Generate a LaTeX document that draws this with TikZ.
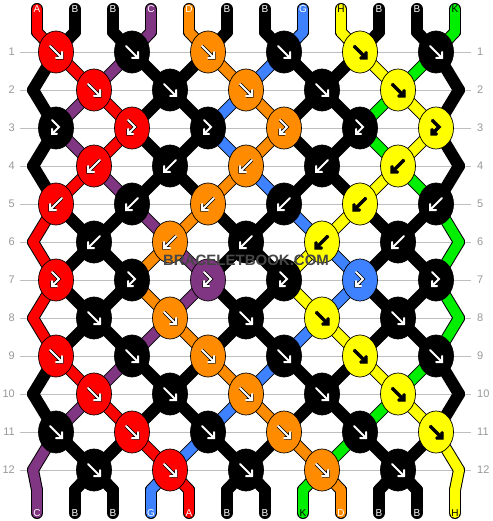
\documentclass[tikz,border=0pt]{standalone}
\usepackage{fontspec}
\setsansfont{Liberation Sans}
\usetikzlibrary{shapes.geometric}

% thread colours
\definecolor{sA}{RGB}{255,0,0}
\definecolor{sB}{RGB}{0,0,0}
\definecolor{sC}{RGB}{128,54,130}
\definecolor{sD}{RGB}{255,140,0}
\definecolor{sG}{RGB}{62,130,255}
\definecolor{sH}{RGB}{255,255,0}
\definecolor{sK}{RGB}{0,238,0}
% arrow and letter colours
\colorlet{aA}{white}\colorlet{aB}{white}\colorlet{aC}{white}\colorlet{aD}{white}
\colorlet{aG}{white}\colorlet{aH}{black}\colorlet{aK}{black}

\tikzset{
  knot/.style={ellipse, draw=black, line width=0.7pt, minimum width=35pt, minimum height=42pt, inner sep=0pt},
  rim/.style={black, line width=12pt, line cap=round},
  thread/.style={line width=10pt, line cap=round},
  glyph/.style={line width=2pt, line cap=round, line join=miter, preaction={draw=black, line width=3.4pt}},
  tiplabel/.style={font=\sffamily\fontsize{10}{10}\selectfont, inner sep=0pt},
  rowlabel/.style={font=\sffamily\fontsize{11}{11}\selectfont, text=black!40, inner sep=0pt},
  guide/.style={black!25, line width=0.8pt},
  stamp/.style={font=\sffamily\bfseries\fontsize{15}{15}\selectfont, text=black!72, inner sep=0pt},
  fwd/.pic={\draw[glyph] (-6,-6) -- (6,6) (0,6) -- (6,6) -- (6,0);},
  bwd/.pic={\draw[glyph] (6,-6) -- (-6,6) (0,6) -- (-6,6) -- (-6,0);},
  fwbw/.pic={\draw[glyph] (-4,-8) -- (3,-1) -- (-4,6) (-4,1) -- (-4,6) -- (1,6);},
}

% thread colours between two rows: from/to/{positions 1..12}
\newcommand\threadrows{
  T/0/{A,B,B,C,D,B,B,G,H,B,B,K},
  0/1/{A,B,B,C,D,B,B,G,H,B,B,K},
  1/2/{B,A,C,B,B,D,G,B,B,H,K,B},
  2/3/{B,C,A,B,B,G,D,B,B,K,H,B},
  3/4/{B,C,A,B,B,G,D,B,B,K,H,B},
  4/5/{B,A,C,B,B,D,G,B,B,H,K,B},
  5/6/{A,B,B,C,D,B,B,G,H,B,B,K},
  6/7/{A,B,B,D,C,B,B,H,G,B,B,K},
  7/8/{A,B,B,D,C,B,B,H,G,B,B,K},
  8/9/{A,B,B,C,D,B,B,G,H,B,B,K},
  9/10/{B,A,C,B,B,D,G,B,B,H,K,B},
  10/11/{B,C,A,B,B,G,D,B,B,K,H,B},
  11/12/{C,B,B,A,G,B,B,D,K,B,B,H},
  12/13/{C,B,B,G,A,B,B,K,D,B,B,H},
  13/U/{C,B,B,G,A,B,B,K,D,B,B,H}}

\begin{document}
\begin{tikzpicture}[x=1pt, y=-1pt]
    \fill[white] (0,0) rectangle (492,521);
    \useasboundingbox (0,0) rectangle (492,521);

    % row numbers and guide lines
    \foreach \r in {1,...,12}{
        \node[rowlabel, anchor=east] (L-\r) at (15,{52+38*(\r-1)}) {\r};
        \node[rowlabel, anchor=west] (R-\r) at (477,{52+38*(\r-1)}) {\r};
        \draw[guide] ([xshift=5pt]L-\r.east) -- ([xshift=-6pt]R-\r.west);
    }

    % strand positions
    \foreach \p in {1,...,12}{
        \coordinate (P-T-\p) at ({37+38*(\p-1)},9);
        \coordinate (P-0-\p) at ({37+38*(\p-1)},32);
        \coordinate (P-13-\p) at ({37+38*(\p-1)},490);
        \coordinate (P-U-\p) at ({37+38*(\p-1)},513);
    }
    \foreach \r in {1,...,12}{
        \foreach \p in {1,...,12}{
            \pgfmathsetmacro\xx{mod(\r,2)==1 ? 56+76*(int((\p+1)/2)-1) : (\p==1 ? 33 : (\p==12 ? 459 : 94+76*(int(\p/2)-1)))}
            \coordinate (P-\r-\p) at (\xx,{52+38*(\r-1)});
        }
    }

    % threads
    \foreach \r/\n/\cols in \threadrows{
        \foreach \c [count=\p] in \cols
            \draw[rim] (P-\r-\p) -- (P-\n-\p);
    }
    \foreach \r/\n/\cols in \threadrows{
        \foreach \c [count=\p] in \cols
            \draw[thread, draw=s\c] (P-\r-\p) -- (P-\n-\p);
    }

    % knots
    \foreach \r/\sym/\cols in {1/fwd/{A,B,D,B,H,B}, 2/fwd/{A,B,D,B,H}, 3/fwbw/{B,A,B,D,B,H},
            4/bwd/{A,B,D,B,H}, 5/bwd/{A,B,D,B,H,B}, 6/bwd/{B,D,B,H,B}, 7/fwbw/{A,B,C,B,G,B},
            8/fwd/{B,D,B,H,B}, 9/fwd/{A,B,D,B,H,B}, 10/fwd/{A,B,D,B,H}, 11/fwd/{B,A,B,D,B,H},
            12/fwd/{B,A,B,D,B}}{
        \foreach \c [count=\k] in \cols {
            \pgfmathtruncatemacro\p{2*\k-mod(\r,2)}
            \node[knot, fill=s\c] (K-\r-\k) at (P-\r-\p) {};
            \pic[color=a\c] at (K-\r-\k) {\sym};
        }
    }

    % thread letters
    \foreach \c [count=\p] in {A,B,B,C,D,B,B,G,H,B,B,K}
        \node[tiplabel, text=a\c] (top-\p) at (P-T-\p) {\c};
    \foreach \c [count=\p] in {C,B,B,G,A,B,B,K,D,B,B,H}
        \node[tiplabel, text=a\c] (bot-\p) at (P-U-\p) {\c};

    \node[stamp] (site) at (246,260) {BRACELETBOOK.COM};
\end{tikzpicture}
\end{document}
